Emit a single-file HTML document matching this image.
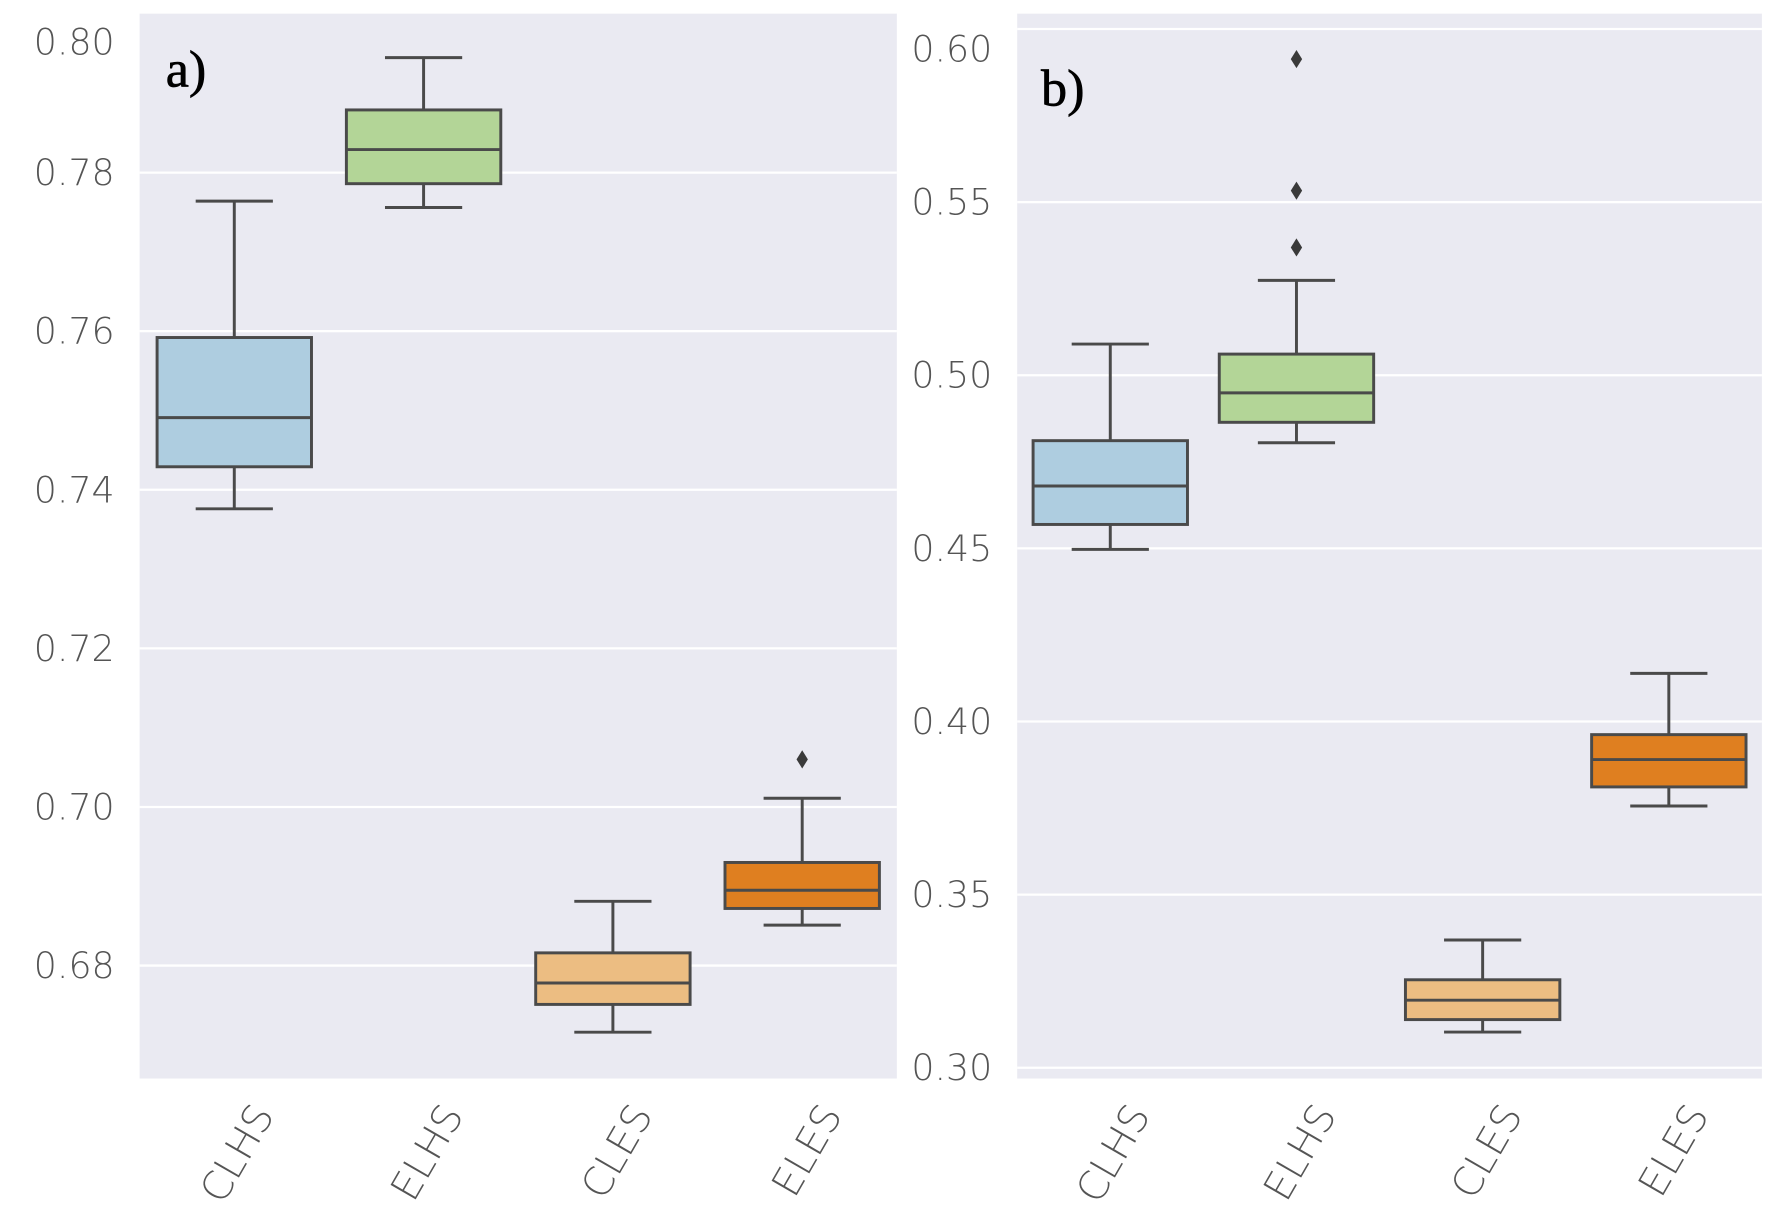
<!DOCTYPE html>
<html><head><meta charset="utf-8"><style>
html,body{margin:0;padding:0;background:#fff;}
svg{display:block;}
</style></head><body>
<svg id="chart" xmlns="http://www.w3.org/2000/svg" width="1771" height="1231" viewBox="0 0 1560 1084.3">
<rect x="0" y="0" width="1560" height="1085" fill="#fff"/>
<g id="pa"></g>
<g id="pb"></g>
</svg>
<script>
const categories = ["CLHS","ELHS","CLES","ELES"];
const colors = ["#aecde0","#b3d597","#ecbd82","#df7f20"];
// panel a: [lowWhisker, q1, median, q3, highWhisker]
const statsA = [
  [0.7376,0.7429,0.7491,0.7592,0.7764],
  [0.7756,0.7786,0.7829,0.7879,0.7945],
  [0.6716,0.6751,0.6778,0.6816,0.6881],
  [0.6851,0.6872,0.6895,0.6930,0.7011]
];
const outliersA = [[],[],[],[0.7060]];
const ticksA = [0.68,0.70,0.72,0.74,0.76,0.78,0.80];
const tickLabelsA = ["0.68","0.70","0.72","0.74","0.76","0.78","0.80"];
// panel b
const statsB = [
  [0.4497,0.4569,0.4680,0.4811,0.5090],
  [0.4805,0.4864,0.4949,0.5061,0.5274],
  [0.3103,0.3139,0.3195,0.3254,0.3369],
  [0.3756,0.3811,0.3890,0.3962,0.4139]
];
const outliersB = [[],[0.5913,0.5533,0.5369],[],[]];
const ticksB = [0.30,0.35,0.40,0.45,0.50,0.55,0.60];
const tickLabelsB = ["0.30","0.35","0.40","0.45","0.50","0.55","0.60"];

const NS="http://www.w3.org/2000/svg";
function mk(parent,tag,attrs,text){const e=document.createElementNS(NS,tag);for(const k in attrs)e.setAttribute(k,attrs[k]);if(text!==undefined)e.textContent=text;parent.appendChild(e);return e;}

function panel(g,cfg){
  const {x0,x1,y0,y1,refV,refY,pxPer,stats,outs,ticks,labels,labelX,labelOverride,tag,tagX,tagY}=cfg;
  const y=v=>refY-(v-refV)*pxPer;
  const bg=mk(g,'rect',{x:x0,y:y0,width:x1-x0,height:y1-y0,fill:'#eaeaf2'});
  
  
  ticks.forEach((t,i)=>{
    const yy=y(t);
    if(yy>y0+3 && yy<y1){
      const gl=mk(g,'line',{x1:x0,x2:x1,y1:yy,y2:yy,stroke:'#fff','stroke-width':2});
      
      
    }
    let ly=yy; if(labelOverride && i===ticks.length-1) ly=labelOverride;
    const tl=mk(g,'text',{x:labelX,y:ly+11,'text-anchor':'end','font-family':'DejaVu Sans, Liberation Sans, sans-serif','font-size':32,fill:'#555','font-weight':300},labels[i]);
    
    
  });
  const step=(x1-x0)/categories.length, bw=136;
  categories.forEach((c,i)=>{
    const cx=x0+step*(i+0.5), s=stats[i];
    const bx=mk(g,'g',{});
    
    
    const st={stroke:'#4a4a4a','stroke-width':2.6};
    mk(bx,'line',Object.assign({x1:cx,x2:cx,y1:y(s[0]),y2:y(s[1])},st));
    mk(bx,'line',Object.assign({x1:cx,x2:cx,y1:y(s[3]),y2:y(s[4])},st));
    mk(bx,'line',Object.assign({x1:cx-34,x2:cx+34,y1:y(s[0]),y2:y(s[0])},st));
    mk(bx,'line',Object.assign({x1:cx-34,x2:cx+34,y1:y(s[4]),y2:y(s[4])},st));
    mk(bx,'rect',Object.assign({x:cx-bw/2,y:y(s[3]),width:bw,height:y(s[1])-y(s[3]),fill:colors[i]},st));
    mk(bx,'line',Object.assign({x1:cx-bw/2,x2:cx+bw/2,y1:y(s[2]),y2:y(s[2])},st));
    outs[i].forEach(o=>{
      const oy=y(o);
      const d=mk(bx,'path',{d:`M${cx},${oy-8} L${cx+5},${oy} L${cx},${oy+8} L${cx-5},${oy} Z`,fill:'#3a3a3a'});
      
      
    });
    const tx=cx+36, ty=y1+32;
    const xl=mk(g,'text',{x:tx,y:ty,'text-anchor':'end','font-family':'DejaVu Sans, Liberation Sans, sans-serif','font-size':35,fill:'#555','font-weight':300,transform:`rotate(-60 ${tx} ${ty})`},c);
    
    
  });
  const tg=mk(g,'text',{x:tagX,y:tagY,'font-family':'Liberation Serif, serif','font-size':46,fill:'#000','stroke':'#000','stroke-width':0.6},tag);
  
  
}
panel(document.getElementById('pa'),{x0:123,x1:790,y0:12,y1:950,refV:0.78,refY:152,pxPer:139.7/0.02,stats:statsA,outs:outliersA,ticks:ticksA,labels:tickLabelsA,labelX:101,labelOverride:37,tag:'a)',tagX:146,tagY:76});
panel(document.getElementById('pb'),{x0:896,x1:1552,y0:12,y1:950,refV:0.55,refY:178,pxPer:152.5/0.05,stats:statsB,outs:outliersB,ticks:ticksB,labels:tickLabelsB,labelX:874,labelOverride:43,tag:'b)',tagX:917,tagY:93});
</script>
</body></html>
